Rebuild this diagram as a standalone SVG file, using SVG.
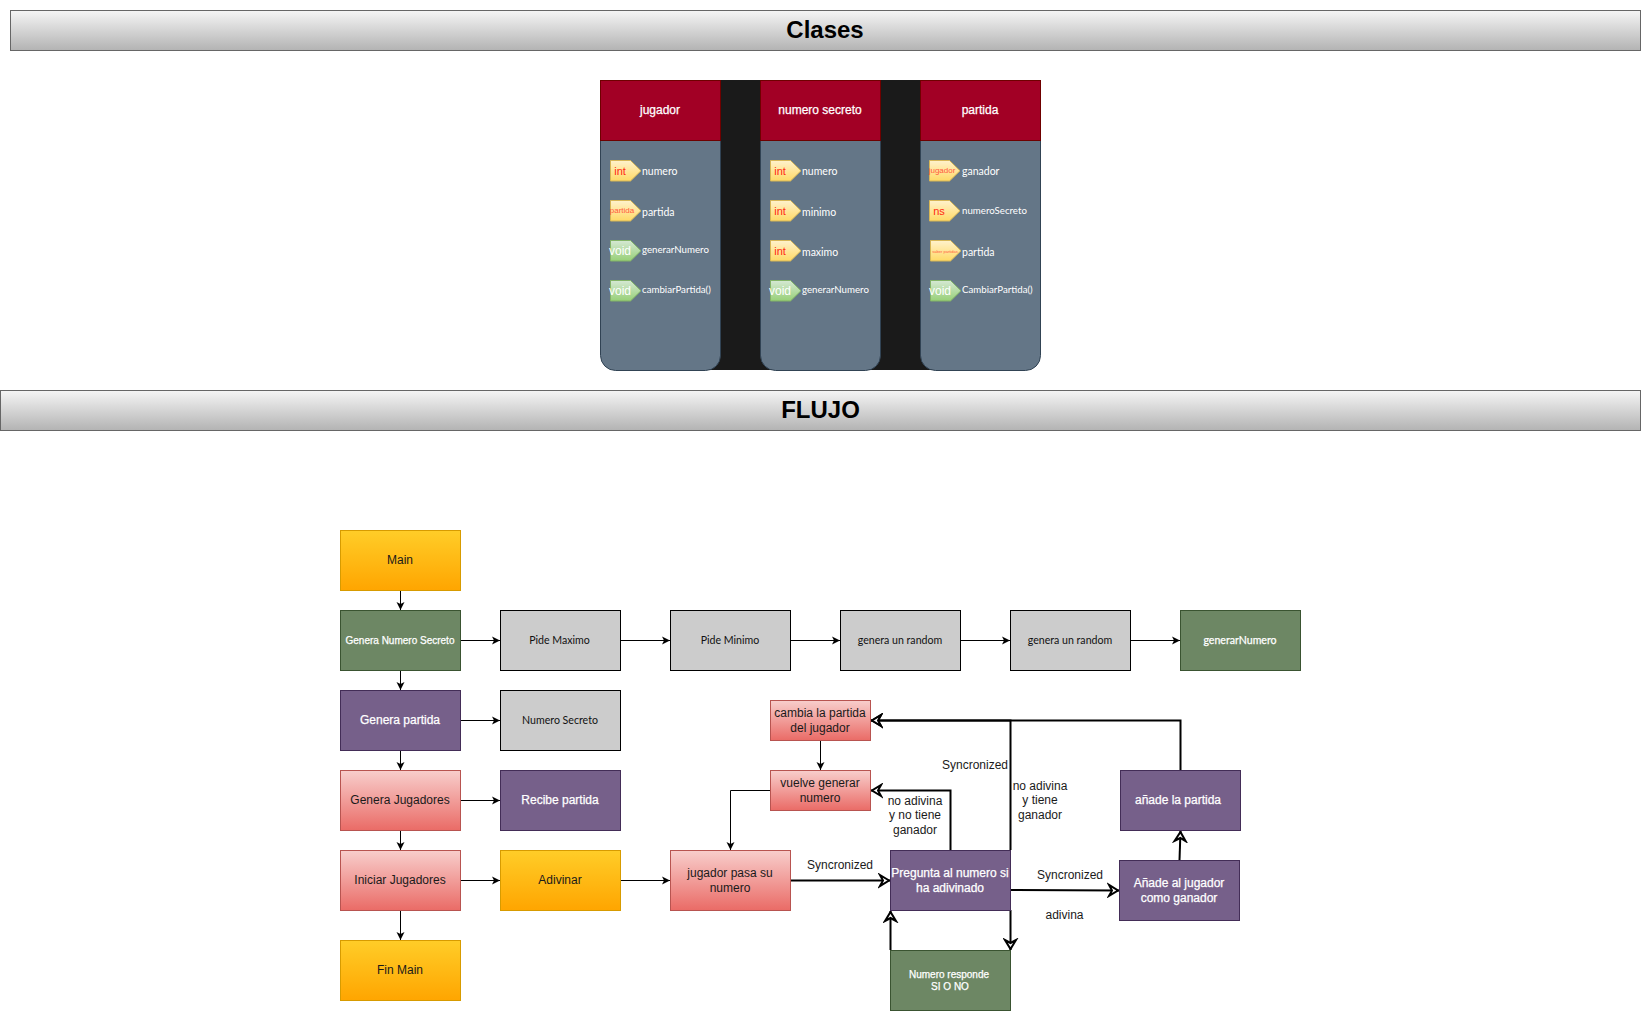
<svg xmlns="http://www.w3.org/2000/svg" width="1641" height="1012" viewBox="0 0 1641 1012">
<style>
text{font-family:"Liberation Sans",Arial,sans-serif;font-size:12px;text-anchor:middle;fill:#1a1a1a}
.sk{font-family:"Lato","Open Sans",sans-serif;font-size:10.6px;fill:#111}
.w{fill:#fff}.swt{fill:#fff;stroke:#fff;stroke-width:.25px}
.m{text-anchor:start;fill:#fff;font-family:"Lato",sans-serif;font-size:10.5px}
.n{font-size:9.7px}
.bar{fill:url(#gb);stroke:#666}
.bt{font-size:24px;font-weight:bold;fill:#000}
.rd{fill:url(#gr);stroke:#b85450}.or{fill:url(#go);stroke:#d79b00}
.gn{fill:#6d8764;stroke:#3a5431}.pu{fill:#76608a;stroke:#432d57}.gy{fill:#ccc;stroke:#000}
.hd{fill:#a20025;stroke:#6f0000}.bd{fill:#647687;stroke:#314354}
.ty{fill:url(#gy2);stroke:#d6b656}.tg{fill:url(#gg);stroke:#82b366}
.ti{fill:#ff2a10;font-size:11px}.ts{fill:#ff5a3c;font-size:8px}.tv{fill:#fff;font-size:12px}
.c{fill:none;stroke:#000;stroke-width:1px;marker-end:url(#a)}
.k{fill:none;stroke:#000;stroke-width:2px;marker-end:url(#b)}
</style>
<defs>
<linearGradient id="gb" x1="0" y1="0" x2="0" y2="1"><stop offset="0" stop-color="#f5f5f5"/><stop offset="1" stop-color="#b3b3b3"/></linearGradient>
<linearGradient id="gr" x1="0" y1="0" x2="0" y2="1"><stop offset="0" stop-color="#f8cecc"/><stop offset="1" stop-color="#ea6b66"/></linearGradient>
<linearGradient id="go" x1="0" y1="0" x2="0" y2="1"><stop offset="0" stop-color="#ffcd28"/><stop offset="1" stop-color="#ffa500"/></linearGradient>
<linearGradient id="gy2" x1="0" y1="0" x2="0" y2="1"><stop offset="0" stop-color="#fff2cc"/><stop offset="1" stop-color="#ffd966"/></linearGradient>
<linearGradient id="gg" x1="0" y1="0" x2="0" y2="1"><stop offset="0" stop-color="#d5e8d4"/><stop offset="1" stop-color="#97d077"/></linearGradient>
<marker id="a" markerUnits="userSpaceOnUse" markerWidth="12" markerHeight="12" refX="8" refY="6" orient="auto"><path d="M0 2 L8 6 L0 10 L2 6 Z" fill="#000"/></marker>
<marker id="b" markerUnits="userSpaceOnUse" markerWidth="16" markerHeight="16" refX="12" refY="8" orient="auto"><path d="M2 2.5 L11 8 L2 13.5 L5 8 Z" fill="#fff" stroke="#000" stroke-width="2"/></marker>
<path id="tag" d="M0 0H20L30.5 10.25L20 20.5H0Z"/>
</defs>

<g id="bar-clases"><rect class="bar" x="10.5" y="10.5" width="1630" height="40"/><text class="bt" x="825" y="38">Clases</text></g>
<g id="bar-flujo"><rect class="bar" x="0.5" y="390.5" width="1640" height="40"/><text class="bt" x="820.5" y="418">FLUJO</text></g>

<g id="clases-fondo"><rect x="660" y="80" width="320" height="290" fill="#1a1a1a"/></g>

<g id="clase-jugador">
<path class="bd" d="M600.5 140.5H720.5V355.5A15 15 0 0 1 705.5 370.5H615.5A15 15 0 0 1 600.5 355.5Z"/>
<rect class="hd" x="600.5" y="80.5" width="120" height="60"/>
<text class="swt" x="660" y="114">jugador</text>
<use href="#tag" class="ty" x="610.5" y="160.5"/><text class="ti" x="620" y="174.5">int</text><text class="m" x="642" y="175">numero</text>
<use href="#tag" class="ty" x="610.5" y="200.5"/><text class="ts" x="622" y="212.5">partida</text><text class="m" x="642" y="215.5">partida</text>
<use href="#tag" class="tg" x="610.5" y="240.5"/><text class="tv" x="620" y="255">void</text><text class="m n" x="642" y="253">generarNumero</text>
<use href="#tag" class="tg" x="610.5" y="280.5"/><text class="tv" x="620" y="295">void</text><text class="m n" x="642" y="293">cambiarPartida()</text>
</g>

<g id="clase-numero-secreto">
<path class="bd" d="M760.5 140.5H880.5V355.5A15 15 0 0 1 865.5 370.5H775.5A15 15 0 0 1 760.5 355.5Z"/>
<rect class="hd" x="760.5" y="80.5" width="120" height="60"/>
<text class="swt" x="820" y="114">numero secreto</text>
<use href="#tag" class="ty" x="770.5" y="160.5"/><text class="ti" x="780" y="174.5">int</text><text class="m" x="802" y="175">numero</text>
<use href="#tag" class="ty" x="770.5" y="200.5"/><text class="ti" x="780" y="214.5">int</text><text class="m" x="802" y="215.5">minimo</text>
<use href="#tag" class="ty" x="770.5" y="240.5"/><text class="ti" x="780" y="254.5">int</text><text class="m" x="802" y="255.5">maximo</text>
<use href="#tag" class="tg" x="770.5" y="280.5"/><text class="tv" x="780" y="295">void</text><text class="m n" x="802" y="293">generarNumero</text>
</g>

<g id="clase-partida">
<path class="bd" d="M920.5 140.5H1040.5V355.5A15 15 0 0 1 1025.5 370.5H935.5A15 15 0 0 1 920.5 355.5Z"/>
<rect class="hd" x="920.5" y="80.5" width="120" height="60"/>
<text class="swt" x="980" y="114">partida</text>
<use href="#tag" class="ty" x="929.5" y="160.5"/><text class="ts" x="942" y="172.5">jugador</text><text class="m" x="962" y="175">ganador</text>
<use href="#tag" class="ty" x="929.5" y="200.5"/><text class="ti" x="939" y="215">ns</text><text class="m n" x="962" y="214">numeroSecreto</text>
<use href="#tag" class="ty" x="930.5" y="240.5"/><text class="ti" style="font-size:4px;fill:#ff5a3c" x="945" y="252.5">saber partidas</text><text class="m" x="962" y="255.5">partida</text>
<use href="#tag" class="tg" x="930.5" y="280.5"/><text class="tv" x="940" y="295">void</text><text class="m n" x="962" y="293">CambiarPartida()</text>
</g>

<g id="connectors">
<path class="c" d="M400.5 590.5V610"/>
<path class="c" d="M400.5 670.5V690"/>
<path class="c" d="M400.5 750.5V770"/>
<path class="c" d="M400.5 830.5V850"/>
<path class="c" d="M400.5 910.5V940"/>
<path class="c" d="M460.5 640.5H500"/>
<path class="c" d="M620.5 640.5H670"/>
<path class="c" d="M790.5 640.5H840"/>
<path class="c" d="M960.5 640.5H1010"/>
<path class="c" d="M1130.5 640.5H1180"/>
<path class="c" d="M460.5 720.5H500"/>
<path class="c" d="M460.5 800.5H500"/>
<path class="c" d="M460.5 880.5H500"/>
<path class="c" d="M620.5 880.5H670"/>
<path class="c" d="M820.5 740.5V770"/>
<path class="c" d="M770.5 790.5H730.5V850"/>
<path class="k" d="M790.5 880.5H890"/>
<path class="k" d="M950.5 850V790.5H871"/>
<path class="k" d="M1010.5 850V720.5H871"/>
<path class="k" d="M1180.5 770V720.5H871"/>
<path class="k" d="M1010.5 890L1119 890.5"/>
<path class="k" d="M1179.5 860L1180.5 831"/>
<path class="k" d="M1010.5 910V950"/>
<path class="k" d="M890.5 950V911"/>
</g>

<g id="n-main"><rect class="or" x="340.5" y="530.5" width="120" height="60"/><text x="400" y="564">Main</text></g>
<g id="n-genera-numero"><rect class="gn" x="340.5" y="610.5" width="120" height="60"/><text class="swt" style="font-size:10px" x="400" y="644">Genera Numero Secreto</text></g>
<g id="n-genera-partida"><rect class="pu" x="340.5" y="690.5" width="120" height="60"/><text class="swt" x="400" y="724">Genera partida</text></g>
<g id="n-genera-jugadores"><rect class="rd" x="340.5" y="770.5" width="120" height="60"/><text x="400" y="804">Genera Jugadores</text></g>
<g id="n-iniciar"><rect class="rd" x="340.5" y="850.5" width="120" height="60"/><text x="400" y="884">Iniciar Jugadores</text></g>
<g id="n-fin"><rect class="or" x="340.5" y="940.5" width="120" height="60"/><text x="400" y="974">Fin Main</text></g>
<g id="n-pide-max"><rect class="gy" x="500.5" y="610.5" width="120" height="60"/><text class="sk" x="559.5" y="644">Pide Maximo</text></g>
<g id="n-pide-min"><rect class="gy" x="670.5" y="610.5" width="120" height="60"/><text class="sk" x="730" y="644">Pide Minimo</text></g>
<g id="n-random1"><rect class="gy" x="840.5" y="610.5" width="120" height="60"/><text class="sk" x="900" y="644">genera un random</text></g>
<g id="n-random2"><rect class="gy" x="1010.5" y="610.5" width="120" height="60"/><text class="sk" x="1070" y="644">genera un random</text></g>
<g id="n-generar"><rect class="gn" x="1180.5" y="610.5" width="120" height="60"/><text class="sk swt" x="1240" y="644">generarNumero</text></g>
<g id="n-numero-secreto"><rect class="gy" x="500.5" y="690.5" width="120" height="60"/><text class="sk" x="560" y="724">Numero Secreto</text></g>
<g id="n-recibe"><rect class="pu" x="500.5" y="770.5" width="120" height="60"/><text class="swt" x="560" y="804">Recibe partida</text></g>
<g id="n-adivinar"><rect class="or" x="500.5" y="850.5" width="120" height="60"/><text x="560" y="884">Adivinar</text></g>
<g id="n-jugador-pasa"><rect class="rd" x="670.5" y="850.5" width="120" height="60"/><text x="730" y="877">jugador pasa su</text><text x="730" y="892">numero</text></g>
<g id="n-cambia"><rect class="rd" x="770.5" y="700.5" width="100" height="40"/><text x="820" y="717">cambia la partida</text><text x="820" y="732">del jugador</text></g>
<g id="n-vuelve"><rect class="rd" x="770.5" y="770.5" width="100" height="40"/><text x="820" y="787">vuelve generar</text><text x="820" y="802">numero</text></g>
<g id="n-pregunta"><rect class="pu" x="890.5" y="850.5" width="120" height="60"/><text class="swt" x="950" y="877">Pregunta al numero si</text><text class="swt" x="950" y="892">ha adivinado</text></g>
<g id="n-responde"><rect class="gn" x="890.5" y="950.5" width="120" height="60"/><text class="swt" style="font-size:10px" x="949" y="978">Numero responde</text><text class="swt" style="font-size:10px" x="950" y="990">SI O NO</text></g>
<g id="n-anade-partida"><rect class="pu" x="1120.5" y="770.5" width="120" height="60"/><text class="swt" x="1178" y="804">añade la partida</text></g>
<g id="n-anade-jugador"><rect class="pu" x="1119.5" y="860.5" width="120" height="60"/><text class="swt" x="1179" y="887">Añade al jugador</text><text class="swt" x="1179" y="902">como ganador</text></g>

<g id="labels">
<text x="840" y="869">Syncronized</text>
<text x="975" y="769">Syncronized</text>
<text x="1040" y="790">no adivina</text><text x="1040" y="804">y tiene</text><text x="1040" y="819">ganador</text>
<text x="915" y="805">no adivina</text><text x="915" y="819">y no tiene</text><text x="915" y="834">ganador</text>
<text x="1070" y="879">Syncronized</text>
<text x="1064.5" y="919">adivina</text>
</g>
</svg>
